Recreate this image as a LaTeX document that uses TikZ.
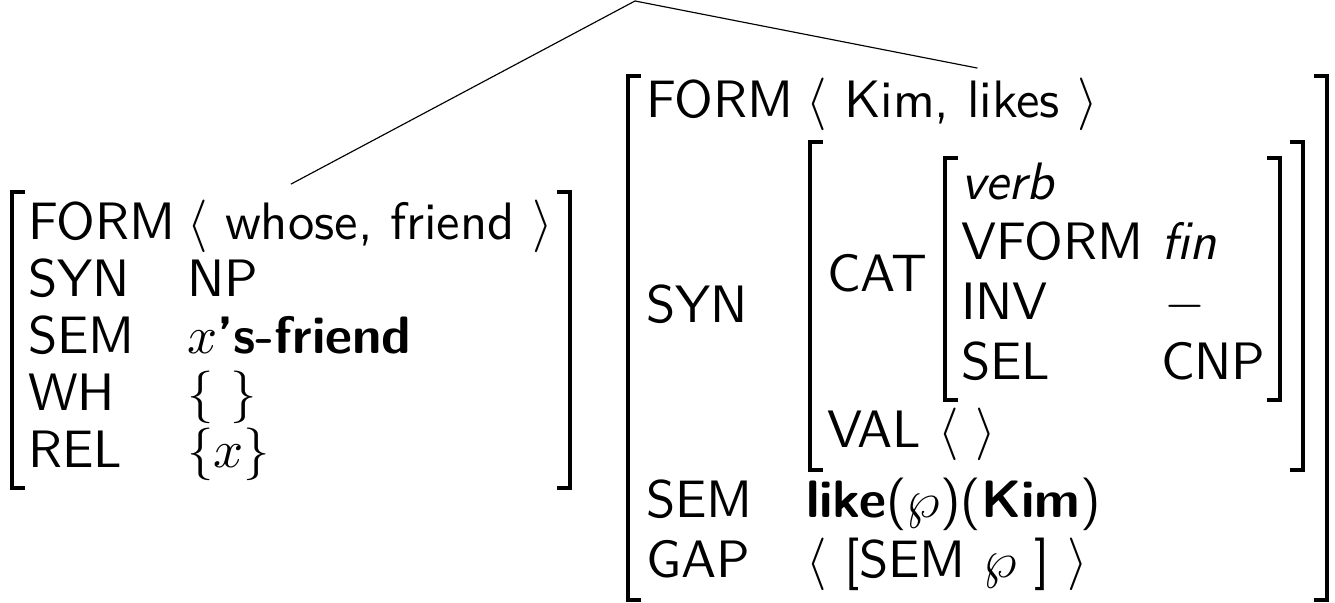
\documentclass[tikz,border=0pt]{standalone}
\usepackage{fontspec}
\setsansfont{Latin Modern Sans}
\usetikzlibrary{fit}
\begin{document}
\begin{tikzpicture}[x=0.19pt,y=-0.19pt,
  lbl/.style={anchor=base west, inner sep=0pt, font=\sffamily},
  brk/.style={line width=0.65pt, line join=miter, line cap=rect},
  link/.style={line width=0.22pt},
  box/.style={inner xsep=0pt, inner ysep=1.3pt}]
\useasboundingbox (0,0) rectangle (1335,603);
\coordinate (top) at (635,1);
% ---------- left AVM ----------
\draw[brk] (23,192) -- (12,192) -- (12,488) -- (23,488);
\draw[brk] (559,192) -- (570,192) -- (570,488) -- (559,488);
\node[box, fit={(12,192)(570,488)}] (L) {};
\node[lbl] (lform) at (27,240) {FORM};
\node[lbl] (lformv) at (186,240) {$\langle$\ whose, friend\ $\rangle$};
\node[lbl] (lsyn) at (27,297) {SYN};
\node[lbl] (lsynv) at (186,297) {NP};
\node[lbl] (lsem) at (27,354) {SEM};
\node[lbl] (lsemv) at (186,354) {$x$\textbf{’s-friend}};
\node[lbl] (lwh) at (27,411) {WH};
\node[lbl] (lwhv) at (186,411) {$\{\ \}$};
\node[lbl] (lrel) at (27,468) {REL};
\node[lbl] (lrelv) at (186,468) {$\{x\}$};
% ---------- right AVM ----------
\draw[brk] (639,76) -- (628,76) -- (628,600) -- (639,600);
\draw[brk] (1316,76) -- (1327,76) -- (1327,600) -- (1316,600);
\node[box, fit={(628,76)(1327,600)}] (R) {};
\node[lbl] (rform) at (645,118) {FORM};
\node[lbl] (rformv) at (805,118) {$\langle$\ Kim, likes\ $\rangle$};
\node[lbl] (rsyn) at (645,323) {SYN};
\draw[brk] (821,142) -- (810,142) -- (810,470) -- (821,470);
\draw[brk] (1292,142) -- (1303,142) -- (1303,470) -- (1292,470);
\node[lbl] (rcat) at (826,292) {CAT};
\draw[brk] (956,158) -- (945,158) -- (945,400) -- (956,400);
\draw[brk] (1269,158) -- (1280,158) -- (1280,400) -- (1269,400);
\node[lbl] (rverb) at (960,200) {\itshape verb};
\node[lbl] (rvform) at (960,260) {VFORM};
\node[lbl] (rvformv) at (1160,260) {\itshape fin};
\node[lbl] (rinv) at (960,320) {INV};
\node[lbl] (rinvv) at (1163,320) {$-$};
\node[lbl] (rsel) at (960,380) {SEL};
\node[lbl] (rselv) at (1160,380) {CNP};
\node[lbl] (rval) at (826,448) {VAL};
\node[lbl] (rvalv) at (937,448) {$\langle\ \rangle$};
\node[lbl] (rsem) at (645,518) {SEM};
\node[lbl] (rsemv) at (805,518) {\textbf{like}($\wp$)(\textbf{Kim})};
\node[lbl] (rgap) at (645,578) {GAP};
\node[lbl] (rgapv) at (805,578) {$\langle$\ [SEM $\wp$ ]\ $\rangle$};
% ---------- connectors ----------
\draw[link] (top) -- (L.north);
\draw[link] (top) -- (R.north);
\end{tikzpicture}
\end{document}
